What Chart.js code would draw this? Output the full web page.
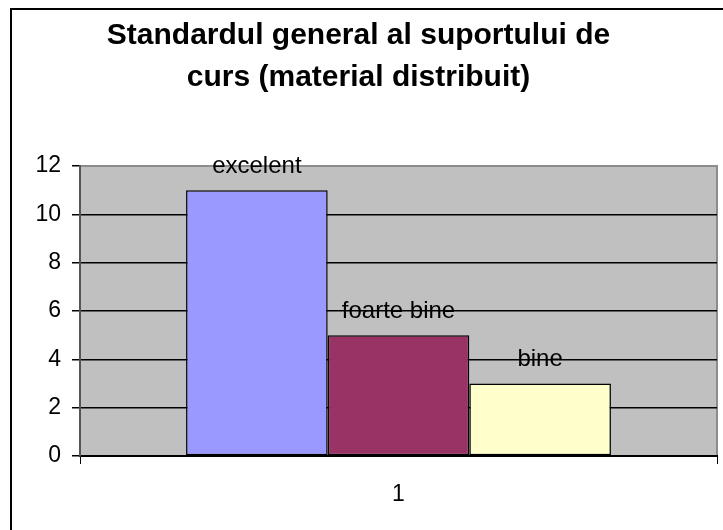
<!DOCTYPE html>
<html lang="ro">
<head>
<meta charset="UTF-8">
<title>Standardul general al suportului de curs</title>
<script src="https://cdn.jsdelivr.net/npm/chart.js"></script>
<style>
  html, body { margin: 0; padding: 0; background: #ffffff; overflow: hidden; }
  #wrap { width: 723px; height: 530px; position: relative; }
</style>
</head>
<body>
<div id="wrap"><canvas id="chart"></canvas></div>
<script>
// date
const categories = ["1"];
const seriesNames = ["excelent", "foarte bine", "bine"];
const excelent = [11];
const foarteBine = [5];
const bine = [3];
const yTicks = [0, 2, 4, 6, 8, 10, 12];

const FONT = "'Liberation Sans', Arial, sans-serif";

// rama exterioara + fundal gri al zonei de desen
const backdrop = {
  id: "backdrop",
  beforeDraw(chart) {
    const { ctx, chartArea: a } = chart;
    ctx.save();
    ctx.fillStyle = "#ffffff";
    ctx.fillRect(0, 0, chart.width, chart.height);
    ctx.strokeStyle = "#000000";
    ctx.lineWidth = 2;
    ctx.strokeRect(11, 9, chart.width + 20, chart.height + 20);
    ctx.fillStyle = "#c0c0c0";
    ctx.fillRect(a.left, a.top, a.right - a.left, a.bottom - a.top);
    ctx.strokeStyle = "#8c8c8c";
    ctx.lineWidth = 2;
    ctx.beginPath();
    ctx.moveTo(a.left, a.top);
    ctx.lineTo(a.right, a.top);
    ctx.lineTo(a.right, a.bottom);
    ctx.stroke();
    ctx.restore();
  }
};

// eticheta seriei deasupra fiecarei coloane
const seriesLabels = {
  id: "seriesLabels",
  afterDatasetsDraw(chart) {
    const { ctx } = chart;
    ctx.save();
    ctx.font = "24px " + FONT;
    ctx.fillStyle = "#000000";
    ctx.textAlign = "center";
    ctx.textBaseline = "middle";
    chart.data.datasets.forEach((ds, i) => {
      chart.getDatasetMeta(i).data.forEach((bar) => {
        ctx.fillText(ds.label, bar.x, bar.y - 24);
      });
    });
    ctx.restore();
  }
};

const common = {
  borderColor: "#000000",
  borderWidth: 1.5,
  borderSkipped: false,
  categoryPercentage: 0.667,
  barPercentage: 1.0
};

new Chart(document.getElementById("chart"), {
  type: "bar",
  data: {
    labels: categories,
    datasets: [
      Object.assign({ label: seriesNames[0], data: excelent, backgroundColor: "#9999ff" }, common),
      Object.assign({ label: seriesNames[1], data: foarteBine, backgroundColor: "#993366" }, common),
      Object.assign({ label: seriesNames[2], data: bine, backgroundColor: "#ffffcc" }, common)
    ]
  },
  options: {
    responsive: true,
    maintainAspectRatio: false,
    animation: false,
    layout: { padding: { left: 0, right: 6, top: 0, bottom: 0 } },
    plugins: {
      legend: { display: false },
      tooltip: { enabled: false },
      title: {
        display: true,
        text: ["Standardul general al suportului de", "curs (material distribuit)"],
        color: "#000000",
        font: { family: FONT, size: 30, weight: "bold", lineHeight: 1.4 },
        padding: { top: 15, bottom: 67 }
      }
    },
    scales: {
      x: {
        offset: true,
        afterFit(scale) { scale.height = 74; },
        grid: {
          offset: true,
          drawOnChartArea: false,
          drawTicks: true,
          tickLength: 8,
          tickColor: "#000000"
        },
        border: { display: true, color: "#000000", width: 2 },
        ticks: {
          color: "#000000",
          padding: 17,
          font: { family: FONT, size: 23 }
        }
      },
      y: {
        min: 0,
        max: 12,
        afterFit(scale) { scale.width = 80; },
        afterBuildTicks(scale) { scale.ticks = yTicks.map((v) => ({ value: v })); },
        grid: {
          color: (c) => (c.tick && c.tick.value > 0 && c.tick.value < 12) ? "#000000" : "rgba(0,0,0,0)",
          lineWidth: 1.5,
          drawTicks: true,
          tickLength: 8,
          tickColor: "#000000"
        },
        border: { display: true, color: "#555555", width: 2 },
        ticks: {
          color: "#000000",
          padding: 11,
          font: { family: FONT, size: 23 }
        }
      }
    }
  },
  plugins: [backdrop, seriesLabels]
});
</script>
</body>
</html>
